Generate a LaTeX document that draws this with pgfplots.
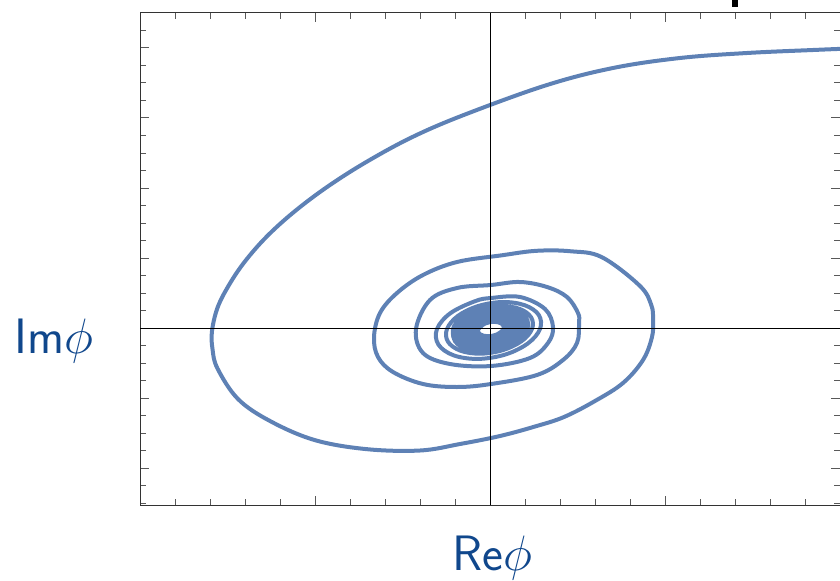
\documentclass[border=0pt]{standalone}
\usepackage{pgfplots}
\pgfplotsset{compat=1.18}
\definecolor{curve}{rgb}{0.368,0.507,0.710}
\definecolor{labelblue}{RGB}{16,71,140}
\begin{document}
\begin{tikzpicture}
\useasboundingbox (-70pt,-37.5pt) rectangle (350pt,252.5pt);
\begin{axis}[
  at={(0,0)}, anchor=south west,
  width=350pt, height=246pt, scale only axis,
  xmin=-350, xmax=350, ymin=-177, ymax=315,
  xtick={-350,-175,0,175,350},
  ytick={-210,-140,-70,0,70,140,210,280,350},
  minor x tick num=4, minor y tick num=3,
  xticklabels={}, yticklabels={},
  tick align=inside,
  major tick length=4.5pt, minor tick length=3pt,
  every tick/.style={black!65, line width=0.5pt},
  axis line style={black!80, line width=0.5pt},
  xtick pos=both, ytick pos=both,
]
\addplot[color=curve, line width=2pt, line join=round, smooth, tension=0.6] coordinates {
(360,279.5) (323,278) (257,275) (190,270) (123,260) (57,243) (-23.4,214.1)
(-75.9,191.8) (-122,167) (-161.8,141.8) (-195.5,116.5) (-223.2,91.5) (-245.2,66.4)
(-261,43) (-272.4,20.5) (-278,-3) (-277.5,-21) (-272.5,-40.5) (-252,-71) (-220,-93)
(-175.5,-112) (-123.8,-121.1) (-70,-122.5) (-30,-116) (10,-108) (45,-98.5) (74,-89)
(105,-73) (133,-55) (153,-32) (162,-9) (163,8) (161.4,22.6) (150,42) (111.9,70.8)
(81,76.7) (46.6,77.2) (11.1,72.6) (-33,66) (-67,53) (-93,35) (-110,15) (-116,-9)
(-112,-29) (-97,-44) (-67,-56) (-33,-59) (1,-56) (47,-47) (73,-32) (87,-15) (89,5)
(88,15) (77,31) (57,41) (30,46) (1,43) (-33,40) (-60,28) (-74,-1) (-67,-25) (-40,-36)
(1,-38) (40,-30) (58,-15) (63,1) (55,19) (30,31) (1,30)
(-14.7,26.9) (-39.5,14.9) (-53,-1) (-51.7,-16.4) (-36.5,-27.3) (-11.9,-30.9) (15.4,-26.5)
(37.9,-15.4) (50,-1) (48.8,13) (34.9,22.7) (12.6,26) (-12,21.9) (-32.2,12) (-43,-1)
(-42.1,-13.6) (-29.8,-22.6) (-9.6,-25.7) (12.9,-22.1) (31.8,-13) (42,-1) (41.1,10.7)
(29.7,19.1) (10.9,21.9) (-10.1,18.6) (-27.5,10.2) (-37,-1)
(-32.2,-16.4) (-8.3,-22.6) (20.5,-16.1) (37.4,-1) (32.9,13.8) (9.9,19.7) (-17.7,13.5)
(-33.9,-1) (-29.5,-15.1) (-7.5,-20.8) (18.9,-14.8) (34.3,-1) (30.1,12.5) (9.1,17.9) (-16,12.2)
(-30.8,-1) (-26.8,-13.9) (-6.75,-19) (17.2,-13.5) (31.2,-1) (27.3,11.2) (8.35,16.1) (-14.4,10.9)
(-27.6,-1) (-24,-12.6) (-6,-17.2) (15.6,-12.3) (28.1,-1) (24.6,9.9) (7.6,14.3) (-12.7,9.6)
(-24.5,-1) (-21.2,-11.3) (-5.2,-15.3) (13.9,-11) (25,-1) (21.9,8.7) (6.8,12.5) (-11.1,8.3)
(-21.4,-1) (-18.4,-10) (-4.4,-13.5) (12.2,-9.7) (21.8,-1) (19.1,7.4) (6,10.7) (-9.4,7.1)
(-18.3,-1) (-15.7,-8.7) (-3.6,-11.7) (10.6,-8.4) (18.7,-1) (16.3,6.1) (5.2,8.8) (-7.8,5.8)
(-15.2,-1) (-13,-7.5) (-2.85,-9.9) (8.95,-7.15) (15.6,-1) (13.6,4.8) (4.45,7) (-6.1,4.5)
(-12,-1) (-10.1,-6.2) (-2.1,-8.25) (7.6,-6.1) (13.5,-1) (12,4.1) (4.1,6.25) (-5.6,4.1)
(-11.5,-1)
};
\draw[black, line width=0.5pt] (axis cs:0,-177) -- (axis cs:0,315);
\draw[black, line width=0.5pt] (axis cs:-350,0) -- (axis cs:350,0);
\end{axis}
\fill[black] (296pt,249pt) rectangle (299pt,253pt);
\node[anchor=base west, inner sep=0pt, text=labelblue] at (-63pt,76pt)
  {\fontsize{24.88}{30}\selectfont\textsf{Im}$\phi$};
\node[anchor=base, inner sep=0pt, text=labelblue] at (176pt,-32.5pt)
  {\fontsize{24.88}{30}\selectfont\textsf{Re}$\phi$};
\end{tikzpicture}
\end{document}
